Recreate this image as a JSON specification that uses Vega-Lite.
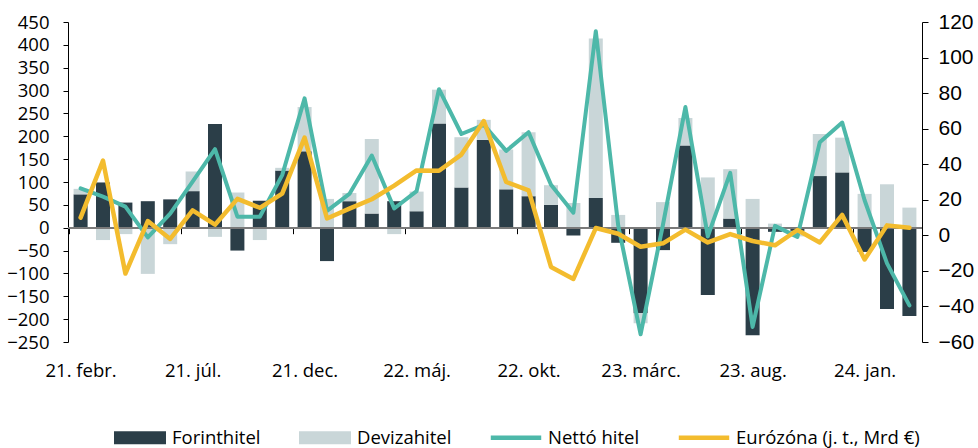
{
  "$schema": "https://vega.github.io/schema/vega-lite/v6.json",
  "width": 854,
  "height": 320,
  "autosize": {"type": "none"},
  "padding": {"left": 68, "top": 22, "right": 56, "bottom": 106},
  "config": {
    "view": {"stroke": null},
    "font": "Open Sans",
    "axis": {"labelOverlap": false, "labelFlush": false, "labelBound": false}
  },
  "data": {"values": [
    {"m":"21. febr.","Forinthitel":73,"Devizahitel":12,"netto":86,"euro":10},
    {"m":"21. márc.","Forinthitel":99,"Devizahitel":-27,"netto":68,"euro":42},
    {"m":"21. ápr.","Forinthitel":55,"Devizahitel":-14,"netto":46,"euro":-21.5},
    {"m":"21. máj.","Forinthitel":58,"Devizahitel":-101,"netto":-21,"euro":8},
    {"m":"21. jún.","Forinthitel":62,"Devizahitel":-36,"netto":31,"euro":-2},
    {"m":"21. júl.","Forinthitel":80,"Devizahitel":43,"netto":101,"euro":14},
    {"m":"21. aug.","Forinthitel":227,"Devizahitel":-20,"netto":172,"euro":6},
    {"m":"21. szept.","Forinthitel":-50,"Devizahitel":77,"netto":24,"euro":20.5},
    {"m":"21. okt.","Forinthitel":59,"Devizahitel":-27,"netto":24,"euro":15.5},
    {"m":"21. nov.","Forinthitel":125,"Devizahitel":6,"netto":115,"euro":23.5},
    {"m":"21. dec.","Forinthitel":167,"Devizahitel":97,"netto":283,"euro":55},
    {"m":"22. jan.","Forinthitel":-73,"Devizahitel":63,"netto":37,"euro":9.5},
    {"m":"22. febr.","Forinthitel":58,"Devizahitel":18,"netto":74,"euro":15},
    {"m":"22. márc.","Forinthitel":31,"Devizahitel":163,"netto":158,"euro":20.3},
    {"m":"22. ápr.","Forinthitel":58,"Devizahitel":-14,"netto":42,"euro":28},
    {"m":"22. máj.","Forinthitel":36,"Devizahitel":43,"netto":80,"euro":36.5},
    {"m":"22. jún.","Forinthitel":228,"Devizahitel":74,"netto":303,"euro":36.3},
    {"m":"22. júl.","Forinthitel":88,"Devizahitel":110,"netto":205,"euro":45.4},
    {"m":"22. aug.","Forinthitel":192,"Devizahitel":44,"netto":225,"euro":64.3},
    {"m":"22. szept.","Forinthitel":84,"Devizahitel":87,"netto":168,"euro":30},
    {"m":"22. okt.","Forinthitel":69,"Devizahitel":140,"netto":209,"euro":25.3},
    {"m":"22. nov.","Forinthitel":50,"Devizahitel":43,"netto":94,"euro":-17.8},
    {"m":"22. dec.","Forinthitel":-17,"Devizahitel":54,"netto":33,"euro":-24.5},
    {"m":"23. jan.","Forinthitel":65,"Devizahitel":349,"netto":430,"euro":4.1},
    {"m":"23. febr.","Forinthitel":-33,"Devizahitel":28,"netto":5,"euro":0.9},
    {"m":"23. márc.","Forinthitel":-187,"Devizahitel":-22,"netto":-233,"euro":-6.4},
    {"m":"23. ápr.","Forinthitel":-49,"Devizahitel":56,"netto":7,"euro":-4.5},
    {"m":"23. máj.","Forinthitel":180,"Devizahitel":60,"netto":264,"euro":3.2},
    {"m":"23. jún.","Forinthitel":-147,"Devizahitel":110,"netto":-19,"euro":-4},
    {"m":"23. júl.","Forinthitel":20,"Devizahitel":108,"netto":120,"euro":0.7},
    {"m":"23. aug.","Forinthitel":-235,"Devizahitel":63,"netto":-217,"euro":-3.2},
    {"m":"23. szept.","Forinthitel":-9,"Devizahitel":9,"netto":4,"euro":-5.6},
    {"m":"23. okt.","Forinthitel":-7,"Devizahitel":-12,"netto":-20,"euro":3},
    {"m":"23. nov.","Forinthitel":113,"Devizahitel":92,"netto":187,"euro":-4},
    {"m":"23. dec.","Forinthitel":121,"Devizahitel":76,"netto":230,"euro":11.5},
    {"m":"24. jan.","Forinthitel":-53,"Devizahitel":74,"netto":60,"euro":-13.6},
    {"m":"24. febr.","Forinthitel":-178,"Devizahitel":95,"netto":-78,"euro":5.6},
    {"m":"24. márc.","Forinthitel":-193,"Devizahitel":44,"netto":-170,"euro":4.3}
  ]},
  "encoding": {
    "x": {
      "field": "m", "type": "nominal", "sort": null,
      "scale": {"paddingInner": 0.375, "paddingOuter": 0.25},
      "axis": {
        "title": null, "domain": false, "labelAngle": 0, "labelOverlap": false,
        "values": ["21. febr.","21. júl.","21. dec.","22. máj.","22. okt.","23. márc.","23. aug.","24. jan."],
        "offset": -114.3, "tickSize": 6, "tickColor": "#000000", "tickWidth": 1,
        "tickOffset": -11.2, "labelOffset": 11.2, "labelPadding": 128,
        "labelFont": "Open Sans", "labelFontSize": 18.5, "labelColor": "#000000"
      }
    }
  },
  "layer": [
    {
      "layer": [
        {
          "transform": [{"fold": ["Forinthitel", "Devizahitel"], "as": ["s", "v"]}],
          "mark": {"type": "bar"},
          "encoding": {
            "y": {
              "field": "v", "type": "quantitative", "stack": "zero",
              "scale": {"domain": [-250, 450], "nice": false, "zero": false},
              "axis": {
                "title": null, "grid": false, "labelOverlap": false, "tickCount": 30,
                "values": [-250,-200,-150,-100,-50,0,50,100,150,200,250,300,350,400,450],
                "domainColor": "#000000", "tickColor": "#000000", "tickSize": 5, "labelPadding": 14,
                "labelFont": "Open Sans", "labelFontSize": 18.5, "labelColor": "#000000"
              }
            },
            "order": {"field": "s", "sort": "descending"},
            "color": {
              "field": "s", "type": "nominal",
              "scale": {
                "domain": ["Forinthitel", "Devizahitel", "Nettó hitel", "Eurózóna (j. t., Mrd €)"],
                "range": ["#2b3e48", "#c9d6d8", "#4db8a9", "#f3bc2e"]
              },
              "legend": {
                "title": null, "orient": "none", "direction": "horizontal",
                "legendX": 46, "legendY": 389.5, "padding": 0,
                "labelFont": "Open Sans", "labelFontSize": 18.5, "labelColor": "#000000",
                "labelOffset": 6, "columnPadding": 38, "labelLimit": 0,
                "symbolSize": 2704, "symbolStrokeWidth": 0,
                "symbolType": "M-1,-0.25L1,-0.25L1,0.25L-1,0.25Z",
                "encode": {
                  "symbols": {
                    "update": {
                      "shape": [
                        {"test": "datum.value === 'Forinthitel' || datum.value === 'Devizahitel'", "value": "M-1,-0.25L1,-0.25L1,0.25L-1,0.25Z"},
                        {"value": "M-0.97,-0.085L0.97,-0.085L0.97,0.085L-0.97,0.085Z"}
                      ],
                      "fill": {"scale": "color", "field": "value"},
                      "fillOpacity": {"value": 1},
                      "strokeWidth": {"value": 0}
                    }
                  }
                }
              }
            }
          }
        },
        {
          "mark": {"type": "rule", "color": "#7a7a7a", "strokeWidth": 1.5},
          "encoding": {"y": {"datum": 0}, "x": null}
        },
        {
          "mark": {"type": "line", "strokeWidth": 4, "strokeJoin": "round", "strokeCap": "round"},
          "encoding": {
            "y": {"field": "netto", "type": "quantitative"},
            "color": {"datum": "Nettó hitel"}
          }
        }
      ]
    },
    {
      "mark": {"type": "line", "strokeWidth": 4.5, "strokeJoin": "round", "strokeCap": "round"},
      "encoding": {
        "y": {
          "field": "euro", "type": "quantitative",
          "scale": {"domain": [-60, 120], "nice": false, "zero": false},
          "axis": {
            "orient": "right", "title": null, "grid": false, "labelOverlap": false, "tickCount": 20,
            "values": [-60,-40,-20,0,20,40,60,80,100,120],
            "domainColor": "#000000", "tickColor": "#000000", "tickSize": 6, "labelPadding": 10,
            "labelFont": "Liberation Sans", "labelFontSize": 21, "labelColor": "#000000"
          }
        },
        "color": {"datum": "Eurózóna (j. t., Mrd €)"}
      }
    }
  ],
  "resolve": {"scale": {"y": "independent"}}
}
